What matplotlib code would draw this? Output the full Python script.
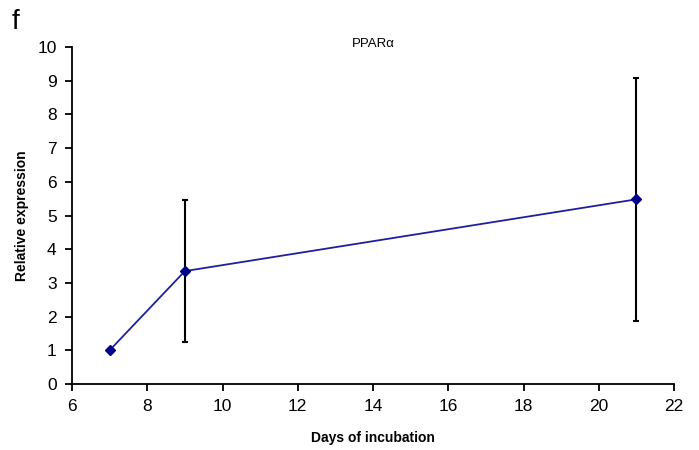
import matplotlib
matplotlib.use("Agg")
import matplotlib.pyplot as plt

plt.rcParams['font.family'] = ['Liberation Sans', 'DejaVu Sans']

# PPARα expression over incubation time
days = [7, 9, 21]
expression = [1.0, 3.35, 5.48]
errors = [0.0, 2.1, 3.6]

fig = plt.figure(figsize=(6.99, 4.5), dpi=100)
ax = fig.add_axes([72 / 699, 1 - 384 / 450, (674 - 72) / 699, (384 - 47) / 450])

# error bars drawn behind the line, no bar at day 7
ax.errorbar(days[1:], expression[1:], yerr=errors[1:], fmt='none', ecolor='black',
            elinewidth=1.5, capsize=2.5, capthick=1.5, zorder=2)
ax.plot(days, expression, color='#1f1f9f', linewidth=1.3, marker='D', markersize=5,
        markerfacecolor='#00008b', markeredgecolor='#00008b', zorder=3)

ax.set_xlim(6, 22)
ax.set_ylim(0, 10)
ax.set_xticks(range(6, 23, 2))
ax.set_yticks(range(0, 11))
ax.spines['top'].set_visible(False)
ax.spines['right'].set_visible(False)
for side in ['left', 'bottom']:
    ax.spines[side].set_linewidth(1.3)
ax.tick_params(direction='out', length=5, width=1.3, labelsize=12.5, pad=6)

ax.set_xlabel('Days of incubation', fontsize=10, fontweight='bold', labelpad=12)
ax.set_ylabel('Relative expression', fontsize=10, fontweight='bold', labelpad=6)
ax.text(14, 10.1, 'PPARα', ha='center', va='center', fontsize=9.5)
fig.text(12 / 699, 1 - 22 / 450, 'f', fontsize=20, va='center')

fig.savefig('out.png', dpi=100)
